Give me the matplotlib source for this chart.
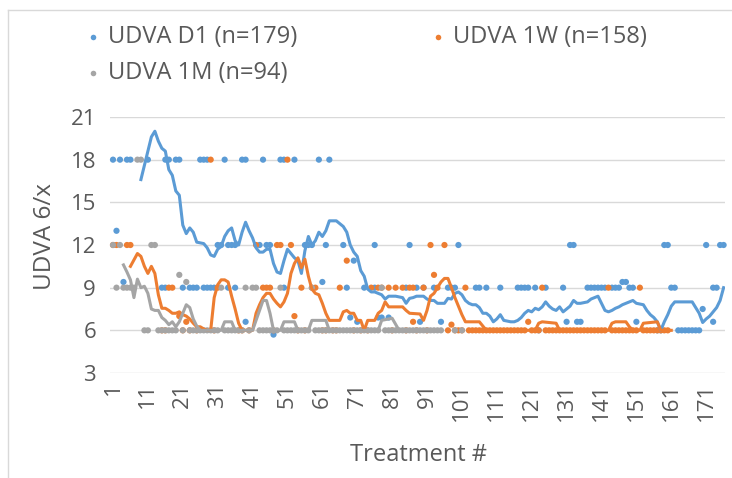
import matplotlib
matplotlib.use("Agg")
import matplotlib.pyplot as plt
from matplotlib.lines import Line2D

plt.rcParams['font.family'] = ['Open Sans', 'DejaVu Sans']

# ---------------- data (treatment #, UDVA 6/x) ----------------
series_names = ["UDVA D1 (n=179)", "UDVA 1W (n=158)", "UDVA 1M (n=94)"]

# UDVA D1 observations: value -> treatment numbers
d1_points = {
    18.0: [1, 3, 5, 6, 11, 16, 17, 19, 20, 26, 27, 28, 33, 38, 39, 44, 49, 50, 53, 60, 63],
    13.0: [2],
    12.0: [31, 32, 34, 35, 36, 43, 45, 46, 56, 57, 58, 62, 67, 76, 86, 100, 132, 133,
           159, 160, 171, 175, 176],
    10.9: [70],
    9.4: [4, 61, 147, 148],
    9.0: [15, 16, 21, 23, 24, 25, 27, 28, 29, 30, 34, 36, 50, 68, 73, 76, 85, 88, 90, 93,
          97, 98, 99, 105, 106, 108, 112, 117, 118, 119, 120, 122, 125, 130, 137, 138, 139,
          140, 141, 142, 144, 145, 146, 149, 150, 161, 162, 173, 174],
    6.9: [69, 77, 78, 80],
    7.5: [170],
    6.6: [39, 71, 89, 95, 131, 134, 135, 151, 173],
    6.0: [123, 157, 158, 163, 164, 165, 166, 167, 168, 169],
    5.7: [47],
}

# UDVA 1W observations
w1_points = {
    18.0: [29, 51],
    12.0: [1, 2, 5, 6, 42, 48, 49, 52, 92, 96],
    10.9: [68],
    9.9: [93],
    9.0: [17, 18, 31, 44, 45, 46, 55, 58, 59, 66, 75, 77, 78, 80, 82, 84, 86, 87, 90, 94,
          102, 124, 143, 152],
    7.0: [20, 53],
    6.6: [22, 87, 120],
    6.4: [98],
    6.0: [15, 16, 21, 23, 25, 30, 37, 38, 40, 47, 54, 56, 61, 62, 64, 65, 70, 72, 74, 81,
          85, 88, 91, 97, 99, 100, 101, 103, 104, 105, 106, 107, 108, 109, 110, 111, 112,
          113, 114, 115, 116, 117, 118, 119, 121, 122, 123, 125, 126, 127, 128, 129, 130,
          131, 132, 133, 134, 135, 136, 137, 138, 139, 140, 141, 142, 144, 145, 146, 147,
          148, 149, 150, 151, 153, 154, 155, 156, 157, 158, 159, 160],
}

# UDVA 1M observations
m1_points = {
    18.0: [8, 9],
    12.0: [1, 3, 12, 13],
    9.9: [20],
    9.4: [22],
    9.0: [2, 4, 5, 6, 7, 32, 39, 41, 42, 49, 58, 78],
    6.0: [10, 11, 14, 15, 16, 17, 18, 19, 21, 23, 24, 25, 26, 27, 28, 29, 30, 31, 33, 34,
          35, 36, 37, 38, 40, 43, 44, 45, 46, 47, 48, 50, 51, 52, 53, 54, 55, 56, 57, 59,
          60, 61, 62, 63, 64, 65, 66, 67, 68, 69, 70, 71, 72, 73, 74, 75, 76, 77, 79, 80,
          81, 82, 83, 84, 85, 86, 87, 88, 89, 90, 91, 92, 93, 94, 95, 99, 101],
}

# moving-average trend lines (treatment #, value)
d1_trend_x = [9, 12, 13, 14, 15, 16, 17, 18, 19, 20, 21, 22, 23, 24, 25, 27, 28, 29, 30, 31,
              32, 33, 34, 35, 36, 37, 38, 39, 40, 41, 42, 43, 44, 45, 46, 47, 48, 49, 50, 51,
              52, 53, 54, 55, 56, 57, 58, 59, 60, 61, 62, 63, 65, 66, 67, 68, 69, 70, 71, 72,
              73, 74, 75, 76, 77, 78, 79, 80, 82, 84, 85, 86, 87, 88, 90, 91, 92, 93, 94, 96,
              97, 98, 99, 100, 101, 102, 103, 104, 105, 106, 107, 108, 109, 110, 111, 112,
              113, 115, 116, 117, 118, 119, 120, 121, 122, 123, 124, 125, 126, 127, 128, 129,
              130, 131, 132, 133, 134, 135, 136, 137, 138, 139, 140, 141, 142, 143, 144, 145,
              146, 147, 148, 149, 150, 151, 152, 153, 154, 155, 156, 157, 158, 159, 160, 161,
              162, 167, 168, 169, 170, 171, 172, 173, 174, 175, 176]
d1_trend_y = [16.6, 19.6, 20.0, 19.3, 18.8, 18.6, 17.3, 16.9, 15.8, 15.5, 13.4, 12.8, 13.2,
              12.9, 12.2, 12.1, 11.8, 11.3, 11.2, 11.7, 11.9, 12.6, 13.0, 13.2, 12.3, 12.0,
              12.9, 13.6, 13.0, 12.5, 11.8, 11.5, 11.5, 11.7, 11.7, 10.7, 10.1, 10.0, 10.9,
              11.7, 11.4, 11.1, 10.9, 10.0, 11.6, 12.6, 12.0, 12.3, 12.9, 12.6, 13.0, 13.7,
              13.7, 13.5, 13.3, 12.9, 12.0, 11.5, 11.2, 10.2, 9.8, 8.9, 8.7, 8.7, 8.6, 8.5,
              8.2, 8.4, 8.4, 8.3, 7.9, 8.25, 8.3, 8.4, 8.4, 8.2, 8.1, 8.1, 7.9, 7.9, 8.25,
              8.2, 8.6, 8.7, 8.5, 8.1, 7.9, 7.8, 7.8, 7.6, 7.2, 7.2, 7.0, 6.6, 6.8, 7.1, 6.7,
              6.6, 6.6, 6.7, 6.9, 7.2, 7.4, 7.3, 7.55, 7.45, 7.65, 8.0, 7.7, 7.5, 7.4, 7.65,
              7.3, 7.5, 7.7, 8.1, 7.9, 7.9, 7.95, 8.0, 8.2, 8.3, 8.4, 7.9, 7.4, 7.3, 7.4,
              7.55, 7.65, 7.8, 7.9, 8.0, 8.1, 7.9, 7.85, 7.8, 7.4, 7.1, 6.9, 6.6, 6.0, 6.6,
              7.1, 7.7, 8.0, 8.0, 7.6, 7.2, 6.55, 6.8, 7.0, 7.3, 7.6, 8.1, 9.0]

w1_trend_x = [6, 8, 9, 10, 11, 12, 13, 14, 15, 16, 17, 18, 19, 20, 21, 22, 23, 24, 25, 26,
              27, 28, 29, 30, 31, 32, 33, 34, 35, 36, 37, 38, 41, 42, 43, 44, 45, 46, 47, 48,
              49, 50, 51, 52, 53, 54, 55, 56, 57, 58, 59, 60, 61, 62, 63, 66, 67, 68, 69, 70,
              71, 72, 73, 74, 76, 77, 78, 79, 80, 84, 85, 86, 89, 90, 91, 92, 93, 94, 95, 96,
              97, 98, 99, 100, 101, 102, 106, 107, 108, 122, 123, 124, 128, 129, 143, 144,
              145, 148, 149, 150, 152, 153, 157, 158, 161]
w1_trend_y = [10.5, 11.4, 11.2, 10.5, 10.0, 10.5, 10.0, 8.5, 7.55, 7.55, 7.4, 7.2, 7.2, 7.3,
              7.1, 7.0, 6.8, 6.5, 6.25, 6.25, 6.1, 6.0, 6.0, 8.3, 9.2, 9.55, 9.55, 9.4, 8.4,
              7.5, 6.5, 6.0, 6.0, 7.2, 7.8, 8.3, 8.6, 8.6, 8.2, 7.9, 7.65, 8.0, 8.6, 10.0,
              10.7, 11.1, 10.4, 11.0, 9.8, 8.9, 8.6, 8.5, 7.9, 7.2, 6.7, 6.7, 7.3, 7.4, 7.2,
              7.2, 6.7, 6.7, 6.0, 6.7, 6.7, 7.2, 7.4, 8.0, 7.65, 7.65, 7.4, 7.2, 7.15, 6.7,
              7.4, 8.4, 8.6, 9.0, 9.4, 9.65, 9.65, 9.0, 8.3, 7.7, 7.1, 6.6, 6.6, 6.3, 6.0,
              6.0, 6.5, 6.6, 6.5, 6.0, 6.0, 6.5, 6.6, 6.6, 6.25, 6.0, 6.0, 6.5, 6.6, 6.0, 6.0]

m1_trend_x = [4, 5, 6, 7, 8, 9, 10, 11, 12, 13, 14, 15, 16, 17, 18, 19, 20, 21, 22, 23, 24,
              25, 26, 32, 33, 35, 36, 41, 43, 44, 45, 46, 47, 49, 50, 53, 54, 57, 58, 62, 63,
              77, 78, 81, 83, 93]
m1_trend_y = [10.6, 10.1, 9.55, 8.3, 9.6, 9.0, 9.1, 8.6, 7.5, 7.4, 7.4, 6.9, 6.7, 6.4, 6.6,
              6.25, 6.6, 7.2, 7.8, 7.6, 6.8, 6.3, 6.0, 6.0, 6.6, 6.6, 6.0, 6.0, 7.4, 8.1, 8.1,
              7.2, 6.0, 6.0, 6.6, 6.6, 6.0, 6.0, 6.7, 6.7, 6.0, 6.0, 6.7, 6.85, 6.0, 6.0]

x_tick_values = list(range(1, 172, 10))
y_tick_values = [3, 6, 9, 12, 15, 18, 21]

colors = ["#5B9BD5", "#ED7D31", "#A5A5A5"]
text_color = "#595959"

# ---------------- figure ----------------
W, H = 732, 478
fig = plt.figure(figsize=(W / 100, H / 100), dpi=100)
ax = fig.add_axes([110 / W, 1 - 373 / H, (725 - 110) / W, (373 - 117) / H])
ax.set_ylim(3, 21)
ax.set_xlim(0.14, 176.4)

for s in ax.spines.values():
    s.set_visible(False)
ax.set_yticks(y_tick_values)
ax.set_xticks(x_tick_values)
ax.set_xticklabels([str(v) for v in x_tick_values], rotation=90)
ax.tick_params(axis='both', length=0, labelsize=16, labelcolor=text_color)
ax.tick_params(axis='y', pad=10)
ax.tick_params(axis='x', pad=7)
ax.grid(axis='y', color="#D9D9D9", linewidth=1.0, zorder=0)
ax.set_axisbelow(True)


def expand(points):
    xs, ys = [], []
    for val, idxs in points.items():
        xs += idxs
        ys += [val] * len(idxs)
    return xs, ys


for pts, c, z in zip([d1_points, w1_points, m1_points], colors, [2, 2.1, 2.2]):
    xs, ys = expand(pts)
    ax.scatter(xs, ys, s=20, color=c, edgecolors='none', zorder=z, clip_on=False)

ax.plot(d1_trend_x, d1_trend_y, color=colors[0], lw=2.2, zorder=3, solid_joinstyle='round')
ax.plot(w1_trend_x, w1_trend_y, color=colors[1], lw=2.2, zorder=3.1, solid_joinstyle='round')
ax.plot(m1_trend_x, m1_trend_y, color=colors[2], lw=2.2, zorder=3.2, solid_joinstyle='round')

# axis titles
fig.text(45 / W, 1 - 237 / H, "UDVA 6/x", rotation=90, ha='center', va='center',
         fontsize=17.5, color=text_color)
fig.text(418 / W, 1 - 455 / H, "Treatment #", ha='center', va='center',
         fontsize=17, color=text_color)

# legend
leg_pos = [(93, 37), (438, 37), (93, 73)]
for (lx, ly), name, c in zip(leg_pos, series_names, colors):
    fig.add_artist(Line2D([lx / W], [1 - ly / H], marker='o', markersize=4, color=c,
                          markeredgewidth=0, linestyle='none', transform=fig.transFigure))
    fig.text((lx + 15) / W, 1 - ly / H, name, ha='left', va='center', fontsize=17,
             color=text_color)

# chart border (top and left visible)
border = "#D9D9D9"
fig.add_artist(Line2D([8 / W, 8 / W], [0, 1 - 10 / H], color=border, lw=1,
                      transform=fig.transFigure))
fig.add_artist(Line2D([8 / W, 1], [1 - 10 / H, 1 - 10 / H], color=border, lw=1,
                      transform=fig.transFigure))

fig.savefig("out.png", dpi=100)
